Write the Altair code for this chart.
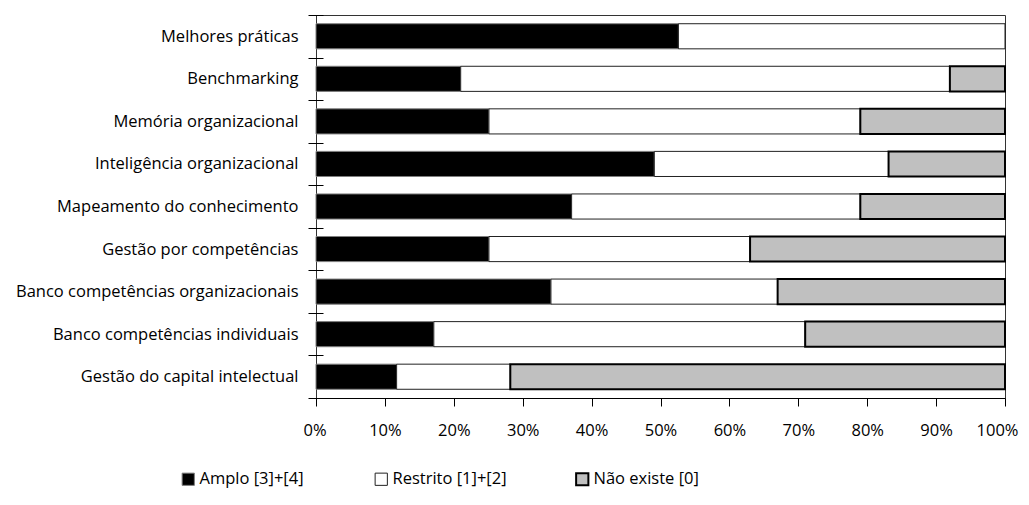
import altair as alt
import pandas as pd

categorias = [
    "Melhores práticas",
    "Benchmarking",
    "Memória organizacional",
    "Inteligência organizacional",
    "Mapeamento do conhecimento",
    "Gestão por competências",
    "Banco competências organizacionais",
    "Banco competências individuais",
    "Gestão do capital intelectual",
]
amplo = [52.6, 21.0, 25.1, 49.1, 37.1, 25.1, 34.1, 17.1, 11.7]
restrito = [47.4, 71.0, 53.9, 34.0, 41.9, 37.9, 32.9, 53.9, 16.5]
nao_existe = [0.0, 8.0, 21.0, 16.9, 21.0, 37.0, 33.0, 29.0, 71.8]
series = ["Amplo [3]+[4]", "Restrito [1]+[2]", "Não existe [0]"]
x_ticks = list(range(0, 101, 10))

rows = []
for i, c in enumerate(categorias):
    for k, vals in enumerate([amplo, restrito, nao_existe]):
        rows.append({"categoria": c, "serie": series[k], "ordem": k, "valor": vals[i]})
df = pd.DataFrame(rows)

FONT = "Open Sans"
FS = 16.5

fills = ["#000000", "#ffffff", "#c0c0c0"]
strokes = ["#7f7f7f", "#222222", "#000000"]
stroke_w = [1, 1, 2]
legend_x = [-136, 57, 258]
legend_y = 456

y_enc = alt.Y(
    "categoria:N",
    sort=categorias,
    scale=alt.Scale(paddingInner=0, paddingOuter=0),
    axis=alt.Axis(
        title=None,
        domain=False,
        offset=-7,
        tickSize=15,
        tickBand="extent",
        tickColor="#000000",
        labelFont=FONT,
        labelFontSize=FS,
        labelColor="#000000",
        labelPadding=10,
        labelLimit=0,
    ),
)
x_axis = alt.Axis(
    title=None,
    values=x_ticks,
    labelExpr="datum.value + '%'",
    tickSize=8,
    tickColor="#000000",
    domainColor="#000000",
    labelFont=FONT,
    labelFontSize=FS,
    labelColor="#000000",
    labelPadding=16,
    labelFlush=True,
    labelFlushOffset=13,
    grid=False,
)

base = alt.Chart(df).transform_stack(
    stack="valor",
    groupby=["categoria"],
    sort=[alt.SortField("ordem", order="ascending")],
    as_=["x0", "x1"],
)

layers = []
for k, name in enumerate(series):
    layer = (
        base.transform_filter(alt.datum.serie == name)
        .transform_filter(alt.datum.valor > 0)
        .mark_bar(stroke=strokes[k], strokeWidth=stroke_w[k], height={"band": 0.59})
        .encode(
            y=y_enc,
            x=alt.X("x0:Q", scale=alt.Scale(domain=[0, 100], nice=False), axis=x_axis),
            x2="x1:Q",
            color=alt.Color(
                "serie:N",
                scale=alt.Scale(domain=[name], range=[fills[k]]),
                legend=alt.Legend(
                    title=None,
                    orient="none",
                    legendX=legend_x[k],
                    legendY=legend_y,
                    symbolType="square",
                    symbolSize=150,
                    symbolStrokeColor=strokes[k],
                    symbolStrokeWidth=stroke_w[k],
                    labelFont=FONT,
                    labelFontSize=FS,
                    labelColor="#000000",
                    labelOffset=3,
                    padding=0,
                ),
            ),
        )
    )
    layers.append(layer)

chart = (
    alt.layer(*layers)
    .resolve_scale(color="independent")
    .properties(
        width=689,
        height=383,
        autosize=alt.AutoSizeParams(type="none"),
        padding={"left": 308, "top": 7, "right": 16, "bottom": 97},
    )
    .configure_view(stroke="#333333", strokeWidth=1)
)

chart.save("out.html", embed_options={"renderer": "svg", "actions": False})
